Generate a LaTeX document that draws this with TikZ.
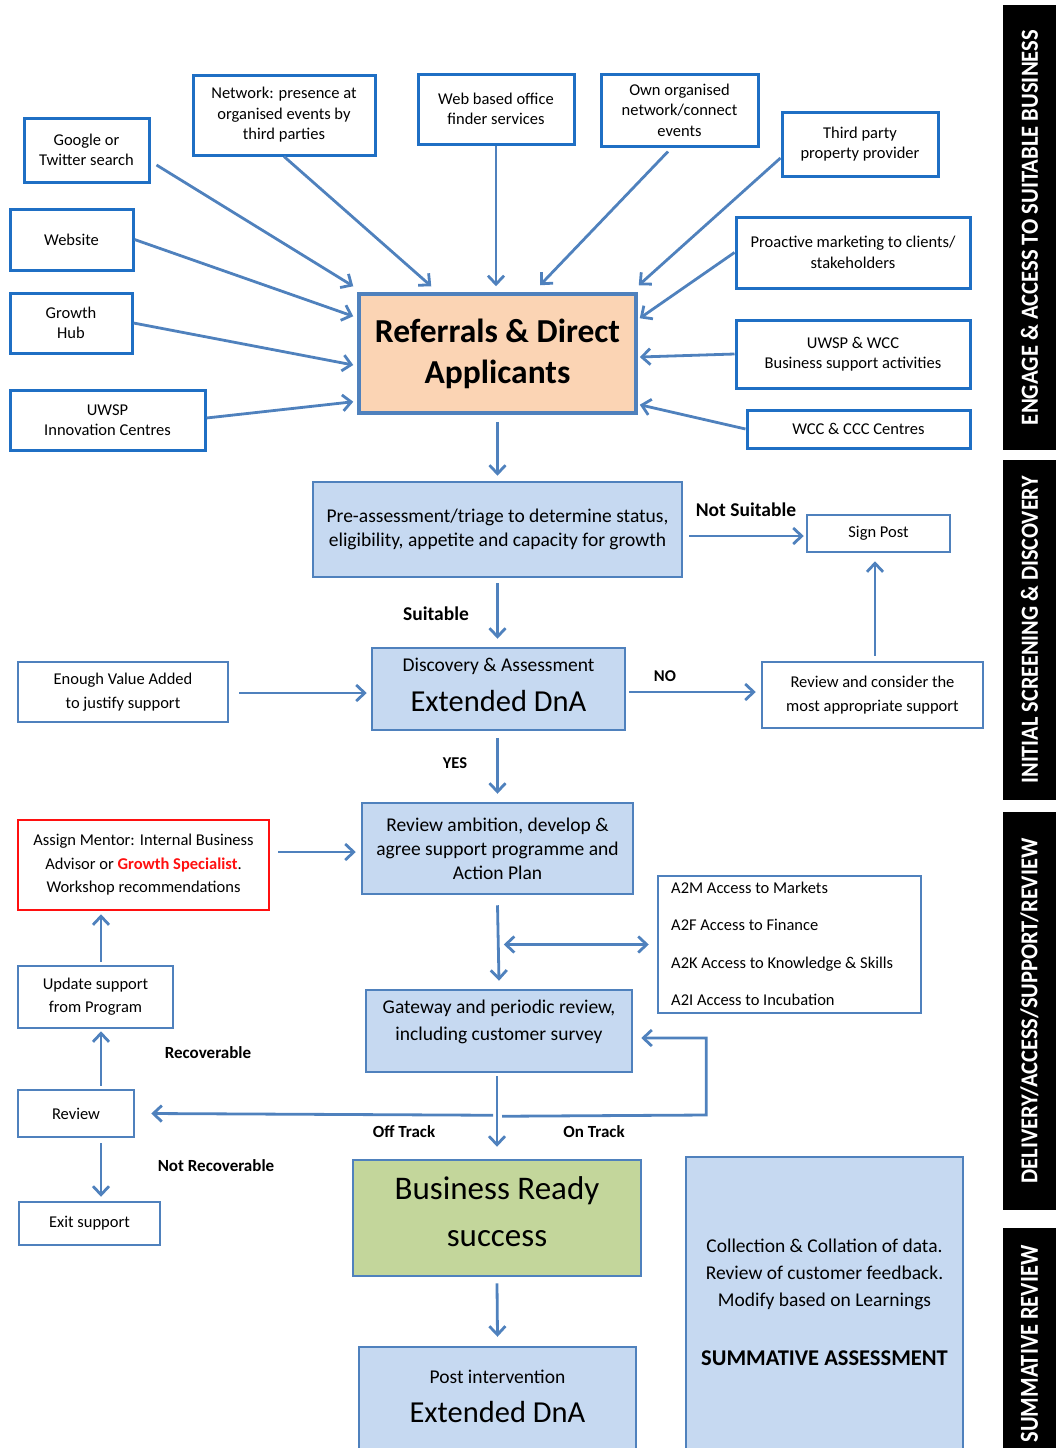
\documentclass[tikz,border=0pt]{standalone}
\usepackage{fontspec}
\setmainfont{Carlito}
\usepackage{graphicx}
\usetikzlibrary{arrows.meta,calc}
\definecolor{lineblue}{HTML}{4F81BD}
\definecolor{topblue}{HTML}{1F6FC4}
\definecolor{fillblue}{HTML}{C6D9F1}
\definecolor{peach}{HTML}{FBD4B4}
\definecolor{leaf}{HTML}{C3D69B}
\definecolor{redline}{HTML}{FF1010}
\tikzset{
  fs/.style={font=\fontsize{16.5}{20.5}\selectfont},
  fm/.style={font=\fontsize{19.5}{24}\selectfont},
  topbox/.style={draw=topblue, line width=3pt, fill=white, inner sep=0pt, align=center, fs},
  wbox/.style={draw=lineblue, line width=2.5pt, fill=white, inner sep=0pt, align=center, fs},
  bbox/.style={draw=lineblue, line width=2.5pt, fill=fillblue, inner sep=0pt, align=center, fm},
  lbl/.style={inner sep=0pt, font=\fontsize{17}{19}\selectfont\bfseries},
  txt/.style={inner sep=0pt, align=center},
  arr/.style={draw=lineblue, line width=2.8pt, -{Straight Barb[length=8.5pt,width=16pt,line width=2.8pt]}},
  darr/.style={draw=lineblue, line width=2.8pt, {Straight Barb[length=8.5pt,width=16pt,line width=2.8pt]}-{Straight Barb[length=8.5pt,width=16pt,line width=2.8pt]}},
  sidebar/.style={fill=black, inner sep=0pt, rotate=90, text=white},
}
\begin{document}
\begin{tikzpicture}[x=1pt,y=-1pt]
\useasboundingbox (0,0) rectangle (1056,1448);
% side bars
\node[sidebar, minimum width=445pt, minimum height=53pt] (bar1) at (1029.5,227.5)
  {\resizebox{395pt}{17pt}{\bfseries ENGAGE \& ACCESS TO SUITABLE BUSINESS}};
\node[sidebar, minimum width=340pt, minimum height=53pt] (bar2) at (1029.5,630)
  {\resizebox{307pt}{17pt}{\bfseries INITIAL SCREENING \& DISCOVERY}};
\node[sidebar, minimum width=398pt, minimum height=53pt] (bar3) at (1029.5,1011)
  {\resizebox{345pt}{17pt}{\bfseries DELIVERY/ACCESS/SUPPORT/REVIEW}};
\node[sidebar, minimum width=232pt, minimum height=53pt] (bar4) at (1029.5,1344)
  {\resizebox{197pt}{17pt}{\bfseries SUMMATIVE REVIEW}};

% top sources
\node[topbox, minimum width=125pt, minimum height=64pt] (google) at (86.5,150) {Google or\\Twitter search};
\node[topbox, minimum width=182pt, minimum height=80pt] (network) at (284,115) {Network: presence at\\organised events by\\third parties};
\node[topbox, minimum width=156pt, minimum height=70pt] (web) at (496,109) {Web based office\\finder services};
\node[topbox, minimum width=157pt, minimum height=72pt] (own) at (679.5,110) {Own organised\\network/connect\\events};
\node[topbox, minimum width=156pt, minimum height=64pt] (third) at (860,144) {Third party\\property provider};
\node[topbox, minimum width=123pt, minimum height=61pt] (website) at (71.5,239.5) {Website};
\node[topbox, minimum width=122pt, minimum height=60pt] (growth) at (71,323) {Growth\\Hub};
\node[topbox, minimum width=195pt, minimum height=60pt] (innov) at (107.5,420) {UWSP\\Innovation Centres};
\node[topbox, minimum width=234pt, minimum height=71pt] (proactive) at (853,252.5) {Proactive marketing to clients/\\stakeholders};
\node[topbox, minimum width=234pt, minimum height=68pt] (uwspwcc) at (853,354) {UWSP \& WCC\\Business support activities};
\node[topbox, minimum width=223pt, minimum height=38pt] (wcc) at (858.5,429) {WCC \& CCC Centres};

% referrals
\node[draw=lineblue, line width=3.5pt, fill=peach, inner sep=0pt, align=center,
  minimum width=277pt, minimum height=119pt, font=\fontsize{33.5}{41}\selectfont\bfseries] (ref) at (497.5,353.5) {Referrals \& Direct\\Applicants};

% arrows into referrals
\draw[arr] ($(google.east)+(6,15)$) -- ($(ref.north west)+(-4,-6)$);
\draw[arr] (network.south) -- ($(ref.north west)+(74,-6)$);
\draw[arr] (web.south) -- ($(ref.north)+(-1.5,-6)$);
\draw[arr] ($(own.south)+(-11.5,4)$) -- ($(ref.north)+(42.5,-7)$);
\draw[arr] ($(third.west)+(0,14)$) -- ($(ref.north east)+(1,-7)$);
\draw[arr] (proactive.west) -- ($(ref.north east)+(2,26)$);
\draw[arr] (uwspwcc.west) -- ($(ref.east)+(2,3.5)$);
\draw[arr] (wcc.west) -- ($(ref.south east)+(2,-10)$);
\draw[arr] (website.east) -- ($(ref.north west)+(-4,24)$);
\draw[arr] (growth.east) -- ($(ref.west)+(-4,11.5)$);
\draw[arr] ($(innov.east)+(0,-2)$) -- ($(ref.south west)+(-4,-13)$);

% screening
\node[bbox, minimum width=369pt, minimum height=95pt] (pre) at (497.5,529.5) {Pre-assessment/triage to determine status,\\eligibility, appetite and capacity for growth};
\node[wbox, minimum width=143pt, minimum height=37pt] (signpost) at (878.5,533.5) {Sign Post};
\node[bbox, minimum width=253pt, minimum height=82pt] (disc) at (498.5,689) {};
\node[txt, fm] (disctxt1) at (498.5,666) {Discovery \& Assessment};
\node[txt, font=\fontsize{30.5}{32}\selectfont] (disctxt2) at (498.5,701) {Extended DnA};
\node[wbox, minimum width=210pt, minimum height=60pt, font=\fontsize{16.5}{24}\selectfont] (enough) at (123,692) {Enough Value Added\\to justify support};
\node[wbox, minimum width=221pt, minimum height=66pt, font=\fontsize{16.5}{24}\selectfont] (reviewc) at (872.5,695) {Review and consider the\\most appropriate support};

\draw[arr] ($(ref.south)+(0,7)$) -- ($(pre.north)+(0,-5)$);
\draw[arr] ($(pre.east)+(6,6.5)$) -- ($(signpost.west)+(-2,2.5)$);
\draw[arr] ($(pre.south)+(0,5)$) -- ($(disc.north)+(-1,-8)$);
\draw[arr] ($(enough.east)+(10,1)$) -- ($(disc.west)+(-4,4)$);
\draw[arr] ($(disc.east)+(3,3)$) -- ($(reviewc.west)+(-5,-3)$);
\draw[arr] ($(reviewc.north)+(2.5,-5)$) -- ($(signpost.south)+(-3.5,8)$);

\node[lbl, font=\fontsize{19.5}{21}\selectfont\bfseries] (lnotsuit) at (746,510) {Not Suitable};
\node[lbl, font=\fontsize{19.5}{21}\selectfont\bfseries] (lsuit) at (436,614) {Suitable};
\node[lbl, font=\fontsize{16.5}{18}\selectfont\bfseries] (lno) at (665,676) {NO};
\node[lbl, font=\fontsize{16.5}{18}\selectfont\bfseries] (lyes) at (455,763) {YES};

% delivery
\node[bbox, minimum width=271pt, minimum height=91pt] (ambition) at (497.5,848.5) {Review ambition, develop \&\\agree support programme and\\Action Plan};
\node[draw=redline, line width=2.5pt, fill=white, inner sep=0pt, align=center, minimum width=251pt, minimum height=90pt,
  font=\fontsize{16.5}{23.5}\selectfont] (mentor) at (143.5,865) {Assign Mentor: Internal Business\\Advisor or {\color{redline}\bfseries Growth Specialist}.\\Workshop recommendations};
\node[wbox, minimum width=263pt, minimum height=137pt] (access) at (789.5,944.5) {};
\node[txt, anchor=west, align=left, font=\fontsize{16.5}{37.5}\selectfont] (accesstxt) at (671,944) {A2M Access to Markets\\A2F Access to Finance\\A2K Access to Knowledge \& Skills\\A2I Access to Incubation};
\node[bbox, minimum width=266pt, minimum height=82pt] (gateway) at (499,1031) {};
\node[txt, font=\fontsize{19.5}{27}\selectfont] (gatetxt) at (499,1022) {Gateway and periodic review,\\including customer survey};
\node[wbox, minimum width=116pt, minimum height=47pt] (review) at (76,1113.5) {Review};
\node[wbox, minimum width=155pt, minimum height=62pt, font=\fontsize{16.5}{23}\selectfont] (update) at (95.5,997) {Update support\\from Program};
\node[wbox, minimum width=141pt, minimum height=43pt] (exit) at (89.5,1223.5) {Exit support};

\draw[arr] ($(disc.south)+(-1,7)$) -- ($(ambition.north)+(0,-8)$);
\draw[arr] ($(mentor.east)+(8,-13)$) -- ($(ambition.west)+(-5,3.5)$);
\draw[arr] ($(ambition.south)+(0,10)$) -- ($(gateway.north)+(0,-8)$);
\draw[darr] ($(access.west)+(-153,0)$) -- ($(access.west)+(-8,0)$);
\draw[arr] ($(gateway.south)+(3,43)$) -- ($(gateway.east)+(73,84)$) -- ($(gateway.east)+(73,7)$) -- ($(gateway.east)+(8,7)$);
\draw[arr] ($(gateway.south)+(-6,42)$) -- ($(review.east)+(16,0)$);
\draw[arr] ($(review.north)+(25,-3)$) -- ($(update.south)+(5.5,2)$);
\draw[arr] ($(update.north)+(5.5,-3)$) -- ($(mentor.south)+(-42.5,3)$);
\draw[arr] ($(review.south)+(25,5)$) -- ($(exit.north)+(11.5,-4)$);

\node[lbl] (lrec) at (208,1053) {Recoverable};
\node[lbl] (lnotrec) at (216,1166) {Not Recoverable};
\node[lbl] (loff) at (404,1132) {Off Track};
\node[lbl] (lon) at (594,1132) {On Track};

% summative
\node[draw=lineblue, line width=2.5pt, fill=leaf, inner sep=0pt, minimum width=288pt, minimum height=116pt] (ready) at (497,1218) {};
\node[txt, font=\fontsize{33}{47}\selectfont] (readytxt) at (497,1212) {Business Ready\\success};
\draw[arr] ($(gateway.south)+(-2,3)$) -- ($(ready.north)+(0,-12)$);
\node[bbox, minimum width=277pt, minimum height=114pt] (post) at (497.5,1404) {};
\node[txt, font=\fontsize{19.5}{21}\selectfont] (posttxt1) at (497.5,1377) {Post intervention};
\node[txt, font=\fontsize{30.5}{32}\selectfont] (posttxt2) at (497.5,1412) {Extended DnA};
\draw[arr] ($(ready.south)+(0,6)$) -- ($(post.north)+(0,-9)$);
\node[bbox, minimum width=277pt, minimum height=303pt] (collect) at (824.5,1308.5) {};
\node[txt, font=\fontsize{19.5}{27}\selectfont] (collecttxt) at (824.5,1274) {Collection \& Collation of data.\\Review of customer feedback.\\Modify based on Learnings};
\node[txt, font=\fontsize{22.5}{24}\selectfont\bfseries] (summtxt) at (824.5,1358) {SUMMATIVE ASSESSMENT};
\end{tikzpicture}
\end{document}
